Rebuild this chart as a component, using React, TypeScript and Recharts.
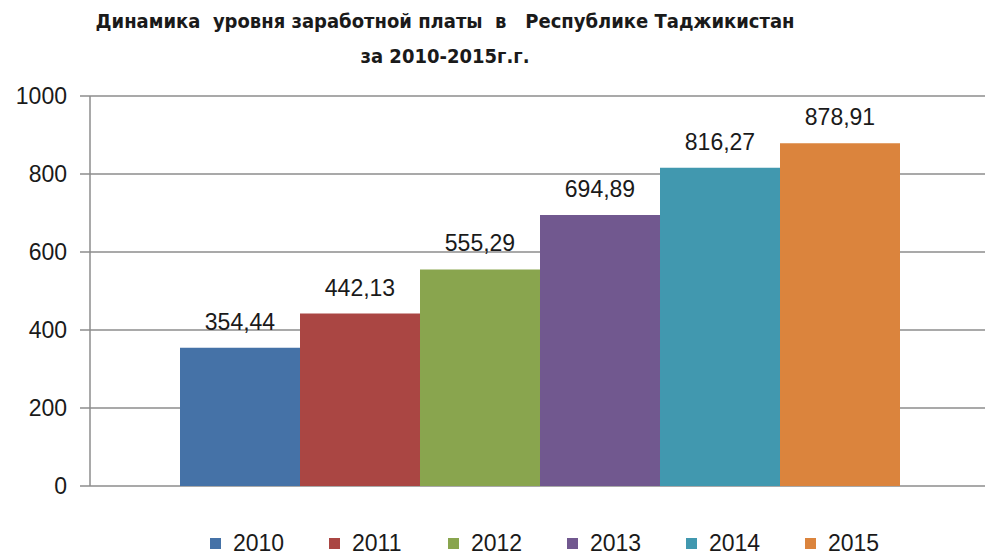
import React from 'react';
import { BarChart, Bar, XAxis, YAxis, CartesianGrid, LabelList, Legend } from 'recharts';

const categories = [''];
const years = ['2010', '2011', '2012', '2013', '2014', '2015'];
const salaries = [354.44, 442.13, 555.29, 694.89, 816.27, 878.91];
const colors = ['#4572A7', '#AA4643', '#89A54E', '#71588F', '#4198AF', '#DB843D'];
const yTicks = [0, 200, 400, 600, 800, 1000];
const titleLines = ['Динамика  уровня заработной платы  в   Республике Таджикистан', 'за 2010-2015г.г.'];

const data = categories.map((c) => {
  const row: Record<string, string | number> = { name: c };
  years.forEach((y, i) => {
    row['y' + y] = salaries[i];
  });
  return row;
});

const FONT = '"Liberation Sans", Arial, sans-serif';
const TITLE_FONT = '"Liberation Sans Narrow", "DejaVu Sans Condensed", "Liberation Sans", sans-serif';
const TEXT = '#1a1a1a';
const GRID = '#8c8c8c';

const fmt = (v: any) => Number(v).toFixed(2).replace('.', ',');

const renderLegend = () => (
  <div
    style={{
      display: 'flex',
      height: 24,
      paddingLeft: 210,
      alignItems: 'center',
      fontFamily: FONT,
      fontSize: 23,
      color: TEXT,
    }}
  >
    {years.map((y, i) => (
      <div key={y} style={{ width: 119, display: 'flex', alignItems: 'center', flex: 'none' }}>
        <span style={{ width: 11, height: 11, background: colors[i], marginRight: 12, display: 'inline-block' }} />
        <span>{y}</span>
      </div>
    ))}
  </div>
);

export default function App() {
  return (
    <div style={{ position: 'absolute', left: 0, top: 0, width: 987, height: 557, background: '#fff' }}>
      <BarChart
        width={987}
        height={557}
        data={data}
        margin={{ top: 96, right: 2, bottom: 47, left: 0 }}
        barCategoryGap={85}
        barGap={0}
      >
        <CartesianGrid vertical={false} stroke={GRID} strokeWidth={1.5} />
        <XAxis dataKey="name" hide padding={{ left: 5, right: 0 }} />
        <YAxis
          width={90}
          domain={[0, 1000]}
          ticks={yTicks}
          interval={0}
          tickSize={10}
          tickMargin={13}
          axisLine={{ stroke: GRID, strokeWidth: 1.5 }}
          tickLine={{ stroke: GRID, strokeWidth: 1.5 }}
          tick={{ fill: TEXT, fontSize: 23, fontFamily: FONT }}
        />
        <Legend
          verticalAlign="bottom"
          content={renderLegend}
          wrapperStyle={{ left: 0, top: 531, width: 987, height: 24 }}
        />
        {years.map((y, i) => (
          <Bar key={y} dataKey={'y' + y} name={y} fill={colors[i]} isAnimationActive={false}>
            <LabelList
              dataKey={'y' + y}
              position="top"
              offset={18}
              formatter={fmt}
              fill={TEXT}
              fontSize={23}
              fontFamily={FONT}
            />
          </Bar>
        ))}
      </BarChart>
      <div
        style={{
          position: 'absolute',
          left: 0,
          top: 4,
          width: 890,
          textAlign: 'center',
          whiteSpace: 'pre',
          fontFamily: TITLE_FONT,
          fontWeight: 'bold',
          fontSize: 20,
          lineHeight: '35px',
          color: TEXT,
        }}
      >
        <div>{titleLines[0]}</div>
        <div>{titleLines[1]}</div>
      </div>
    </div>
  );
}
